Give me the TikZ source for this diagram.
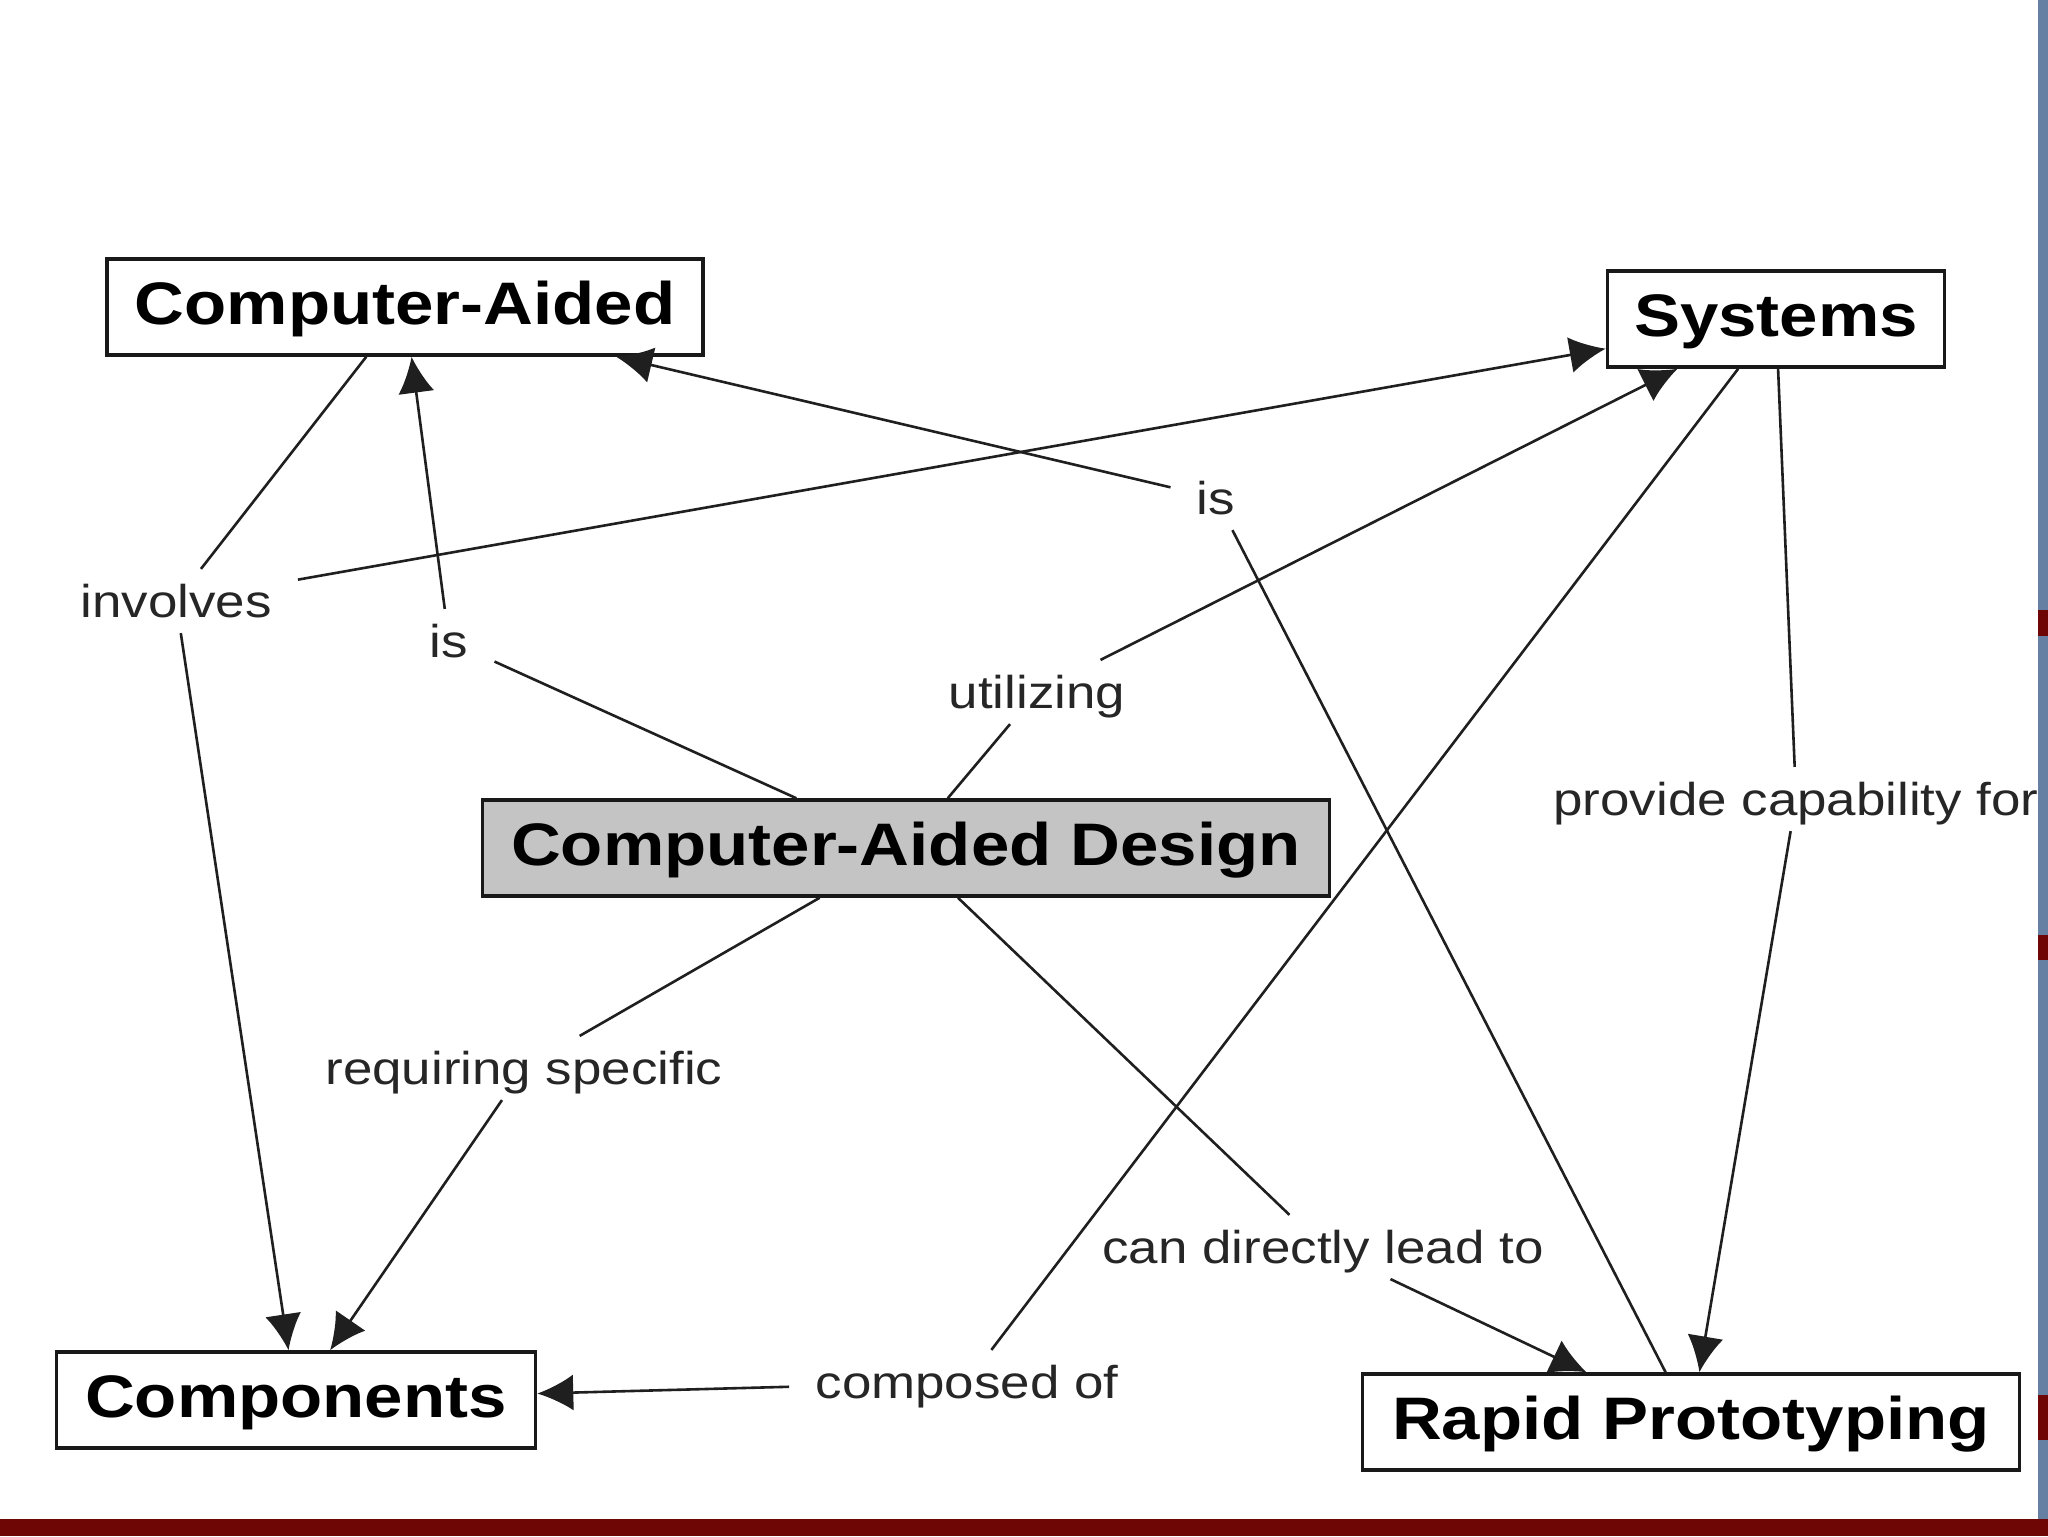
\documentclass[tikz,border=0pt]{standalone}
\usepackage{fontspec}
\setmainfont{Liberation Sans}[FakeStretch=1.15]
\usetikzlibrary{arrows.meta}
\definecolor{stripblue}{HTML}{6580A2}
\definecolor{bandred}{HTML}{6E0606}
\definecolor{cadgray}{HTML}{C4C4C4}
\newcommand{\cdown}[1]{\raisebox{-6pt}{#1}}
\newcommand{\ldown}[1]{\raisebox{-5.5pt}{#1}}
\tikzset{
  concept/.style={draw=black!90, line width=1.75pt, fill=white, inner sep=0pt,
    minimum height=48pt, font=\fontsize{30}{36}\selectfont\bfseries,
    text height=0.72em, text depth=0.2em},
  lbl/.style={font=\fontsize{23}{28}\selectfont, text=black!85, inner xsep=13pt, inner ysep=11pt,
    text height=0.75em, text depth=0.22em},
  link/.style={line width=1.3pt, draw=black!88},
  arr/.style={link, -{Latex[length=18pt,width=18pt]}}
}
\begin{document}
\begin{tikzpicture}[x=0.5pt, y=-0.5pt]
\useasboundingbox (0,0) rectangle (2048,1536);
\fill[white] (0,0) rectangle (2048,1536);
% decorative frame pieces
\fill[stripblue] (2038,0) rectangle (2048,1519);
\fill[bandred] (2038,610) rectangle (2048,636);
\fill[bandred] (2038,935) rectangle (2048,960);
\fill[bandred] (2038,1395) rectangle (2048,1440);
\fill[bandred] (0,1519) rectangle (2048,1536);

% concepts
\node[concept, minimum width=298pt] (CA) at (405,307) {\cdown{Computer-Aided}};
\node[concept, minimum width=168.5pt] (SYS) at (1776,319) {\cdown{Systems}};
\node[concept, fill=cadgray, minimum width=423.5pt] (CAD) at (906,848) {\cdown{Computer-Aided Design}};
\node[concept, minimum width=239.5pt] (COMP) at (296,1400) {\cdown{Components}};
\node[concept, minimum width=328.5pt] (RP) at (1691,1422) {\cdown{Rapid Prototyping}};

% linking phrases
\node[lbl] (inv) at (176,601) {\ldown{involves}};
\node[lbl] (isL) at (449,641) {\ldown{is}};
\node[lbl] (isR) at (1216,498) {\ldown{is}};
\node[lbl] (util) at (1037,692) {\ldown{utilizing}};
\node[lbl] (prov) at (1796,799) {\ldown{provide capability for}};
\node[lbl] (req) at (524,1068) {\ldown{requiring specific}};
\node[lbl] (lead) at (1323,1247) {\ldown{can directly lead to}};
\node[lbl] (compo) at (967,1382) {\ldown{composed of}};

% connectors
\draw[link] (CA) -- (inv);
\draw[arr] (inv) -- (COMP);
\draw[arr] (inv) -- (SYS);
\draw[link] (CAD) -- (isL);
\draw[arr] (isL) -- (CA);
\draw[link] (CAD) -- (util);
\draw[arr] (util) -- (SYS);
\draw[link] (CAD) -- (req);
\draw[arr] (req) -- (COMP);
\draw[link] (CAD) -- (lead);
\draw[arr] (lead) -- (RP);
\draw[link] (RP) -- (isR);
\draw[arr] (isR) -- (CA);
\draw[link] (SYS) -- (compo);
\draw[arr] (compo) -- (COMP);
\draw[link] (SYS) -- (prov);
\draw[arr] (prov) -- (RP);
\end{tikzpicture}
\end{document}
